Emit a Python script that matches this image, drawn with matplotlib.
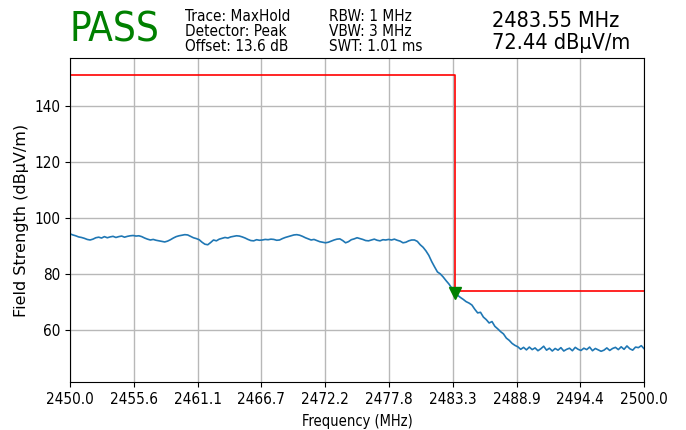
import numpy as np
import matplotlib
matplotlib.use('Agg')
import matplotlib.pyplot as plt

# trace, 0.25 MHz steps from 2450 to 2500 MHz
freq_start = 2450.0
freq_stop = 2500.0
level = [
    94.3, 93.9, 93.6, 93.2, 93.0, 92.7, 92.3, 92.1, 92.4, 92.9,
    93.1, 92.8, 93.3, 92.9, 93.2, 93.4, 93.0, 93.3, 93.5, 93.1,
    93.4, 93.6, 93.7, 93.5, 93.6, 93.3, 92.8, 92.4, 92.1, 92.3,
    92.0, 91.8, 91.6, 91.4, 91.7, 92.2, 92.8, 93.3, 93.6, 93.8,
    94.0, 93.9, 93.4, 92.9, 92.6, 92.2, 91.3, 90.6, 90.4, 91.2,
    92.1, 91.8, 92.4, 92.7, 93.0, 92.8, 93.2, 93.4, 93.6, 93.5,
    93.2, 92.8, 92.3, 91.9, 91.8, 92.2, 92.0, 92.1, 92.3, 92.2,
    92.4, 92.3, 92.0, 92.1, 92.6, 93.0, 93.3, 93.6, 93.9, 94.0,
    93.8, 93.4, 92.9, 92.5, 92.1, 92.3, 91.9, 91.5, 91.3, 91.1,
    91.3, 91.7, 92.1, 92.4, 92.5, 91.9, 91.1, 91.5, 92.2, 92.5,
    92.9, 92.6, 92.3, 91.9, 91.8, 92.1, 92.4, 92.0, 91.8, 92.2,
    92.1, 92.3, 92.1, 92.4, 92.0, 91.7, 91.1, 91.3, 91.8, 92.1,
    92.1, 91.6, 90.4, 89.5, 88.2, 86.6, 84.4, 82.5, 80.7, 80.0,
    78.9, 77.6, 76.4, 74.9, 73.6, 72.4, 71.6, 70.9, 70.1, 69.6,
    68.9, 67.4, 66.1, 66.3, 64.6, 63.7, 62.5, 63.0, 61.3, 60.4,
    59.4, 58.6, 57.1, 56.3, 55.2, 54.5, 54.0, 53.1, 53.8, 52.9,
    53.9, 53.0, 53.6, 52.6, 53.3, 54.2, 52.8, 53.5, 52.5, 53.4,
    52.8, 53.7, 52.5, 53.1, 53.5, 52.6, 53.8, 53.1, 52.7, 53.5,
    53.0, 53.9, 52.6, 53.4, 52.9, 52.4, 52.8, 53.6, 52.7, 53.4,
    53.8, 53.0, 54.0, 53.1, 54.3, 53.3, 52.8, 53.9, 53.7, 54.4,
    53.3,
]

# limit line
limit_freq = [2450.0, 2483.5, 2483.5, 2500.0]
limit_level = [151.0, 151.0, 74.0, 74.0]

# marker
marker_freq = 2483.55
marker_level = 72.44

settings_left = ['Trace: MaxHold', 'Detector: Peak', 'Offset: 13.6 dB']
settings_right = ['RBW: 1 MHz', 'VBW: 3 MHz', 'SWT: 1.01 ms']
verdict = 'PASS'

plt.rcParams['font.family'] = 'DejaVu Sans'
plt.rcParams['font.stretch'] = 'condensed'

freq = np.linspace(freq_start, freq_stop, len(level))

fig = plt.figure(figsize=(6.86, 4.30), dpi=100)
ax = fig.add_axes([0.102, 0.112, 0.837, 0.753])

ax.plot(freq, level, color='#1f77b4', linewidth=1.2)
ax.plot(limit_freq, limit_level, color='red', linewidth=1.2)
ax.plot([marker_freq], [marker_level + 0.8], marker='v', color='green',
        markersize=8, linestyle='none')

ax.set_xlim(freq_start, freq_stop)
ax.set_ylim(41.5, 157)
xt = np.linspace(freq_start, freq_stop, 10)
ax.set_xticks(xt)
ax.set_xticklabels([f'{v:.1f}' for v in xt])
ax.set_yticks([60, 80, 100, 120, 140])
ax.tick_params(labelsize=11)
ax.grid(True, color='#b8b8b8', linewidth=1.0)
ax.set_xlabel('Frequency (MHz)', fontsize=10.5, labelpad=5)
ax.set_ylabel('Field Strength (dB\u00b5V/m)', fontsize=11.5, labelpad=4,
              fontstretch='normal')

fig.text(0.102, 0.93, verdict, color='green', fontsize=29,
         ha='left', va='center')
fig.text(0.27, 0.926, '\n'.join(settings_left), fontsize=11,
         ha='left', va='center', linespacing=1.0)
fig.text(0.48, 0.926, '\n'.join(settings_right), fontsize=11,
         ha='left', va='center', linespacing=1.0)
fig.text(0.717, 0.925, f'{marker_freq:.2f} MHz\n{marker_level:.2f} dB\u00b5V/m',
         fontsize=15.5, ha='left', va='center', linespacing=1.15)

fig.savefig('out.png', dpi=100)
